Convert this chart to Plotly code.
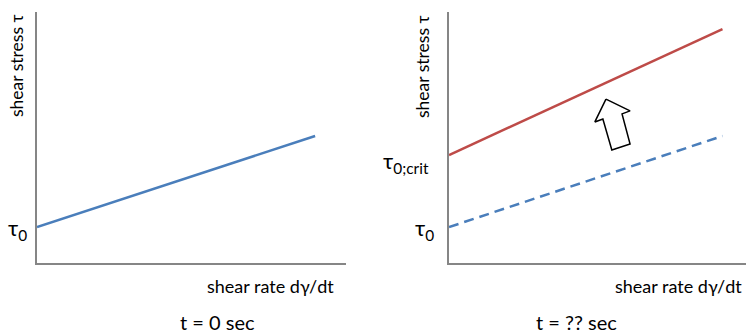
import plotly.graph_objects as go

# ---- data ----
x_left = [0, 9.0]
y_left = [1.43, 5.06]          # tau0 line at t = 0
x_right = [0, 8.85]
y_right_red = [4.3, 9.32]      # tau0;crit line
y_right_blue = [1.43, 5.06]    # original tau0 line (dashed)
arrow_x = [5.08, 5.86, 5.60, 5.86, 5.27, 4.98, 4.72, 5.08]
arrow_y = [6.53, 6.06, 5.94, 4.74, 4.50, 5.74, 5.62, 6.53]

W, H = 746, 335
BLUE = "#4a7ebb"
RED = "#be4b48"
AX = "#868686"
FONT = "Lato"

fig = go.Figure()
fig.add_trace(go.Scatter(x=x_left, y=y_left, mode="lines",
                         line=dict(color=BLUE, width=2.5), xaxis="x", yaxis="y"))
fig.add_trace(go.Scatter(x=x_right, y=y_right_red, mode="lines",
                         line=dict(color=RED, width=2.5), xaxis="x2", yaxis="y2"))
fig.add_trace(go.Scatter(x=x_right, y=y_right_blue, mode="lines",
                         line=dict(color=BLUE, width=2.5, dash="10px,6px"), xaxis="x2", yaxis="y2"))
fig.add_trace(go.Scatter(x=arrow_x, y=arrow_y, mode="lines", fill="toself",
                         fillcolor="white", line=dict(color="black", width=1.5),
                         xaxis="x2", yaxis="y2"))

def px(x):
    return x / W

def py(y):
    return 1 - y / H

ydom = [py(263), py(12)]
axis_common = dict(showgrid=False, zeroline=False, showticklabels=False, ticks="",
                   showline=True, linecolor=AX, linewidth=2)

fig.update_layout(
    width=W, height=H, margin=dict(l=0, r=0, t=0, b=0),
    paper_bgcolor="white", plot_bgcolor="white", showlegend=False,
    xaxis=dict(domain=[px(37), px(346)], range=[0, 10], **axis_common),
    yaxis=dict(domain=ydom, range=[0, 10], **axis_common),
    xaxis2=dict(domain=[px(449), 1.0], range=[0, 297 / 30.9], anchor="y2", **axis_common),
    yaxis2=dict(domain=ydom, range=[0, 10], anchor="x2", **axis_common),
)

def ann(text, x, y, size=16, angle=0, xanchor="center"):
    fig.add_annotation(text=text, x=px(x), y=py(y), xref="paper", yref="paper",
                       showarrow=False, textangle=angle, xanchor=xanchor, yanchor="middle",
                       font=dict(family=FONT, size=size, color="black"))

ann("shear stress τ", 16, 66, size=17.5, angle=-90)
ann("shear stress τ", 423, 67, size=17.5, angle=-90)
ann("τ<sub>0</sub>", 17, 229, size=22)
ann("τ<sub>0</sub>", 424, 229, size=22)
ann("τ<sub>0;crit</sub>", 406, 162, size=22)
ann("shear rate dγ/dt", 205, 286, size=18, xanchor="left")
ann("shear rate dγ/dt", 613, 286, size=18, xanchor="left")
ann("t = 0 sec", 217, 322, size=20)
ann("t = ?? sec", 576, 322, size=20)

fig.write_html("out.html", config={"displayModeBar": False},
               post_script="document.body.style.margin='0';document.body.style.padding='0';")
